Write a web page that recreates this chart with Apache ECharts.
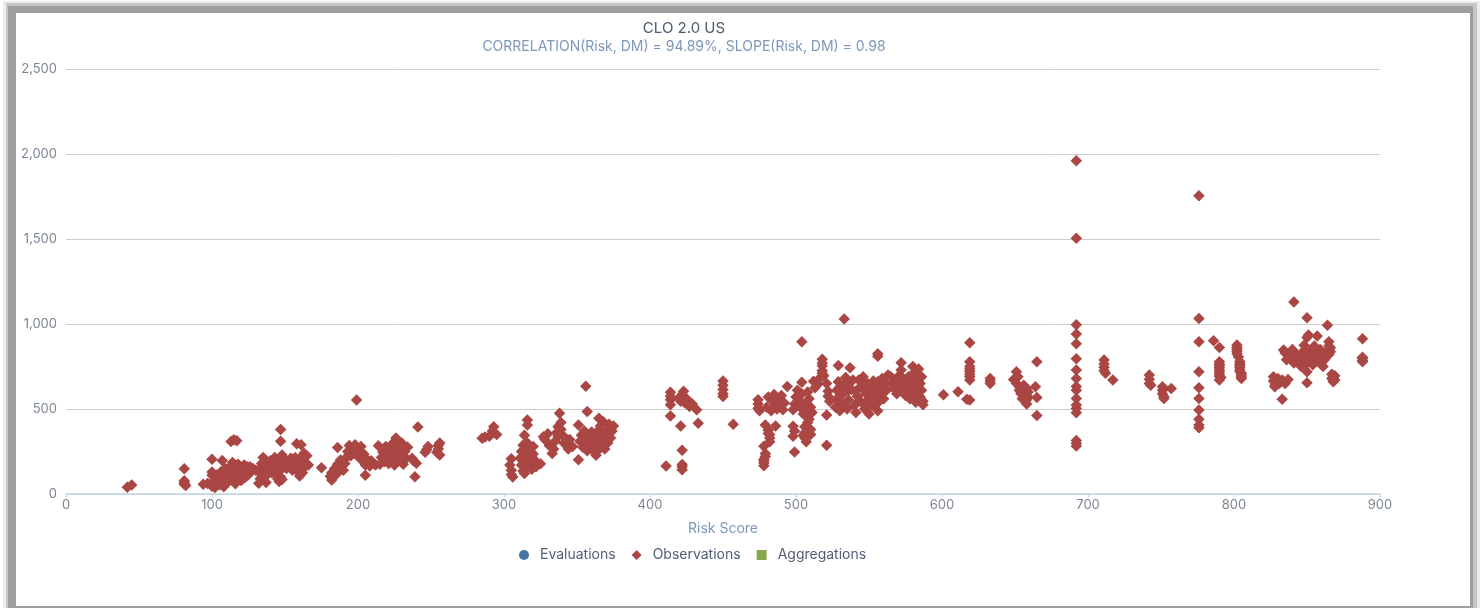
<!DOCTYPE html>
<html>
<head>
<meta charset="utf-8">
<script src="https://cdn.jsdelivr.net/npm/echarts@6/dist/echarts.min.js"></script>
<style>
  html, body { margin: 0; padding: 0; background: #fff; overflow: hidden; }
  .edge { position: absolute; }
  #main { position: absolute; left: 0; top: 0; width: 1480px; height: 608px; }
</style>
</head>
<body>
<!-- grey screenshot frame round the chart -->
<div class="edge" style="left:3px;top:1px;width:1477px;height:607px;background:#ececec"></div>
<div class="edge" style="left:6px;top:3px;width:1471px;height:605px;background:#c6c6c6"></div>
<div class="edge" style="left:8px;top:6px;width:1465px;height:602px;background:#9e9e9e"></div>
<div class="edge" style="left:16px;top:13px;width:1454px;height:593px;background:#fff"></div>
<div id="main"></div>
<script>
var yTicks = [0, 500, 1000, 1500, 2000, 2500];
var xTicks = [0, 100, 200, 300, 400, 500, 600, 700, 800, 900];
var legendNames = ['Evaluations', 'Observations', 'Aggregations'];
var evaluations = [];
var aggregations = [];

// observations, [risk, dm], left to right
var obsBelow100 = [[42,39],[45,53],[81,148],[81,78],[81,68],[81,58],[82,50],[94,57],[97,62]];
var obs100to130 = [[100,205],[107,197],[113,309],[115,319],[117,313],[100,45],[102,38],[103,60],[101,75],[104,90],[100,110],[100,130],
  [105,55],[106,75],[107,100],[108,62],[109,120],[110,85],[110,145],[111,70],[112,100],[112,130],[113,165],[114,80],[115,115],
  [115,150],[116,95],[117,135],[118,175],[119,110],[120,80],[120,150],[121,125],[122,170],[123,100],[124,140],[125,115],[126,160],
  [127,135],[128,150],[106,130],[103,112],[109,150],[114,185],[119,145],[122,95],[108,42],[104,72],[116,60],
  [113,130],[111,110],[117,110],[105,95],[109,95],[121,150],[125,140],[130,140],[124,160],[118,150],[116,170]];
var obs130to170 = [[132,63],[137,67],[146,73],[147,100],[145,90],[160,106],[163,240],[147,380],[147,311],[158,295],[161,290],
  [133,90],[133,120],[133,150],[134,180],[135,215],[136,105],[138,140],[139,170],[140,195],[141,125],[142,155],[143,215],[144,185],
  [145,140],[146,165],[147,205],[148,230],[149,175],[151,150],[152,190],[153,165],[154,210],[155,140],[156,180],[157,150],[158,195],
  [159,130],[160,170],[161,215],[162,150],[163,190],[164,165],[165,225],[166,170],[162,125],[148,85],
  [136,165],[137,195],[138,115],[140,150],[142,180],[143,130],[146,190],[148,150],[150,200],[152,165],[155,170],[157,215],[159,175],[161,185]];
var obs175to260 = [[175,155],[186,274],[182,83],[181,105],[182,125],[183,100],[184,150],[185,115],[186,175],[187,140],[188,200],
  [189,165],[190,140],[191,180],[192,215],[193,250],[194,285],[195,225],[196,270],[197,240],[198,290],[199,553],[200,255],[201,215],
  [202,280],[203,195],[204,235],[205,110],[205,170],[206,205],[208,165],[209,195],[210,180],[212,170],[214,284],[215,175],[216,215],
  [217,245],[218,190],[219,280],[220,225],[221,180],[222,260],[223,205],[224,300],[225,170],[225,240],[226,330],[227,195],[228,270],
  [229,225],[230,300],[231,175],[232,250],[233,210],[234,275],[237,210],[238,195],[240,181],[239,102],[241,394],[246,245],[247,260],
  [248,280],[254,245],[255,265],[255,285],[256,300],[256,230],
  [219,205],[222,230],[224,195],[226,215],[228,240],[230,250],[227,290],[221,245],[229,195],[184,130],[187,175],[197,260],[199,230],[207,185]];
var obs280to380 = [[285,328],[287,335],[290,340],[292,370],[293,396],[295,350],[305,208],[304,170],[305,140],[305,115],[306,100],
  [316,436],[316,406],[314,346],[313,287],[312,250],[311,210],[312,170],[313,135],[314,120],[316,300],[316,260],[317,215],[318,175],
  [319,145],[320,280],[320,235],[321,195],[322,160],[325,178],[327,337],[328,320],[330,355],[331,285],[333,238],[334,265],[335,310],
  [336,360],[337,396],[338,475],[339,420],[340,345],[341,300],[343,297],[344,265],[345,320],[347,280],[351,406],[351,202],[356,634],
  [357,485],[352,310],[353,345],[354,275],[355,370],[356,300],[357,255],[358,335],[359,280],[360,365],[361,310],[362,245],[363,228],
  [364,340],[365,445],[365,290],[366,375],[367,320],[368,425],[369,265],[370,350],[371,300],[372,410],[373,330],[375,400],[374,370],
  [314,200],[316,160],[318,250],[315,230],[320,210],[337,340],[339,380],[342,330],[355,320],[358,300],[360,280],[362,330],[364,310],[366,270],
  [368,345],[368,295],[361,345],[357,350],[363,360],[365,265],[369,320],[371,375],[366,400]];
var obs410to470 = [[411,164],[414,598],[414,554],[414,525],[414,459],[421,400],[422,257],[422,174],[422,143],[423,604],[420,564],
  [422,585],[424,535],[425,560],[427,515],[429,530],[432,495],[433,416],[450,665],[450,640],[450,614],[450,590],[450,574],[457,410],
  [414,575],[422,160],[421,545],[426,540]];
var obs470to526 = [[474,555],[474,530],[474,505],[475,490],[479,406],[481,375],[481,356],[482,330],[482,307],[478,281],[479,238],[478,205],
  [478,182],[478,166],[486,400],[480,510],[481,570],[483,490],[484,545],[485,585],[486,515],[487,500],[488,560],[489,530],[490,580],
  [491,495],[492,535],[494,633],[499,247],[498,340],[498,398],[499,370],[504,895],[504,657],[498,495],[499,530],[500,570],[501,610],
  [502,550],[503,510],[504,590],[505,470],[506,396],[506,360],[506,330],[507,307],[507,540],[508,600],[509,440],[510,380],[510,510],
  [510,350],[511,480],[512,663],[513,625],[515,645],[516,680],[518,792],[518,755],[518,725],[519,695],[521,287],[521,465],[521,650],
  [522,604],[522,575],[523,545],[508,420],[509,465],[505,345],[507,500],[509,560],[482,350],[479,220],[478,195],[518,770],[518,710]];
var obs526to590 = [[529,756],[537,742],[533,1030],[527,510],[528,560],[528,610],[529,660],[530,490],[531,535],[532,590],[533,640],
  [534,685],[535,500],[536,555],[538,615],[539,670],[540,520],[541,480],[542,575],[544,630],[545,540],[546,690],[547,500],[548,590],
  [549,650],[550,555],[550,470],[551,610],[552,520],[553,665],[554,575],[555,630],[556,490],[556,810],[556,825],[557,545],[558,600],
  [559,680],[560,560],[561,640],[562,610],[563,700],[565,690],[566,650],[567,620],[568,670],[569,590],[570,640],[571,700],[572,772],
  [572,730],[573,610],[574,665],[575,580],[576,625],[577,690],[578,560],[579,650],[580,750],[580,600],[581,715],[582,540],[582,680],
  [583,630],[584,735],[585,570],[585,650],[586,610],[587,525],[587,545],
  [541,605],[543,545],[546,650],[548,540],[550,625],[552,585],[554,530],[556,660],[558,560],[560,660],[557,620],[553,620],[547,610],
  [543,670],[535,650],[530,630],[532,520],[536,610],[566,680],[570,610],[574,640],[578,625],[581,640],[583,590],[586,690],[580,670],
  [576,655],[572,670],[584,660],[581,570],[577,600],[569,660]];
var obs600to670 = [[601,584],[611,602],[617,557],[619,553],[619,890],[619,778],[619,750],[619,720],[619,690],[619,670],[633,680],[633,665],
  [633,650],[651,719],[649,674],[652,690],[653,631],[654,591],[657,610],[659,570],[658,530],[656,640],[655,560],[659,600],[658,555],
  [665,778],[664,631],[665,568],[665,462],[619,735],[619,705],[651,650],[653,610],[656,585],[658,620]];
var obs692 = [[692,1960],[692,1505],[692,995],[692,941],[692,884],[692,796],[692,729],[692,680],[692,632],[692,610],[692,562],[692,523],
  [692,503],[692,478],[692,314],[692,298],[692,282]];
var obs705to760 = [[711,788],[711,765],[711,745],[711,725],[712,710],[717,670],[742,700],[742,675],[742,650],[743,640],[751,631],[751,610],
  [751,590],[752,572],[752,562],[757,621]];
var obs776 = [[776,1755],[776,1033],[776,896],[776,719],[776,625],[776,562],[776,494],[776,439],[776,406],[776,390]];
var obs785to870 = [[786,902],[790,862],[790,778],[790,755],[790,730],[790,705],[791,685],[790,670],[802,876],[802,850],[802,825],[803,807],
  [804,768],[804,745],[804,720],[805,700],[805,680],[827,690],[827,665],[828,640],[828,631],[830,680],[833,670],[833,557],[835,650],
  [837,674],[841,1129],[850,1037],[864,992],[834,847],[835,830],[838,800],[840,850],[841,770],[843,820],[844,790],[846,750],
  [847,835],[848,875],[849,805],[850,920],[850,770],[851,935],[852,840],[853,795],[854,760],[855,870],[856,815],[857,929],[858,780],
  [859,850],[860,805],[861,750],[850,719],[850,655],[865,896],[865,870],[865,850],[866,837],[867,705],[868,690],[868,680],[869,670],
  [790,765],[790,742],[790,718],[790,692],[802,862],[802,838],[804,780],[804,757],[804,732],[805,710],[805,690],[831,650],[829,660],
  [842,800],[845,810],[848,790],[850,830],[851,800],[853,770],[855,830],[857,790],[859,810],[849,850],[847,780],[838,815],[836,790],
  [862,790],[863,830],[865,820],[866,860],[867,680],[869,695],[868,660]];
var obsAbove880 = [[888,913],[888,805],[888,798],[888,785],[888,778]];

var observations = [].concat(obsBelow100, obs100to130, obs130to170, obs175to260, obs280to380, obs410to470,
  obs470to526, obs526to590, obs600to670, obs692, obs705to760, obs776, obs785to870, obsAbove880);

var fontName = 'Inter, "Open Sans", sans-serif';
var myChart = echarts.init(document.getElementById('main'), null, { renderer: 'canvas' });

myChart.setOption({
  animation: false,
  backgroundColor: 'transparent',
  textStyle: { fontFamily: fontName },
  title: [
    { text: 'CLO 2.0 US', left: 684, top: 21, textAlign: 'center', padding: 0,
      textStyle: { color: '#4d5b70', fontSize: 15, fontWeight: 'normal', fontFamily: fontName } },
    { text: 'CORRELATION(Risk, DM) = 94.89%, SLOPE(Risk, DM) = 0.98', left: 684, top: 40, textAlign: 'center', padding: 0,
      textStyle: { color: '#7d97bb', fontSize: 14, fontWeight: 'normal', fontFamily: fontName } }
  ],
  grid: { left: 66, right: 100, top: 69, bottom: 114 },
  legend: {
    data: legendNames,
    left: 514, top: 543,
    itemWidth: 10, itemHeight: 10, itemGap: 16,
    textStyle: { color: '#4f5f78', fontSize: 14, fontFamily: fontName, padding: [0, 0, 0, 6] }
  },
  xAxis: {
    type: 'value', min: xTicks[0], max: xTicks[xTicks.length - 1], interval: 100,
    name: 'Risk Score', nameLocation: 'middle', nameGap: 28,
    nameTextStyle: { color: '#7d97bb', fontSize: 14 },
    axisLine: { show: true, lineStyle: { color: '#c6d6e8', width: 1.5 } },
    axisTick: { show: true, length: 3, lineStyle: { color: '#c6d6e8' } },
    axisLabel: { color: '#7b8594', fontSize: 13, margin: 5, showMinLabel: true, showMaxLabel: true },
    splitLine: { show: false }
  },
  yAxis: {
    type: 'value', min: yTicks[0], max: yTicks[yTicks.length - 1], interval: 500,
    axisLine: { show: false },
    axisTick: { show: false },
    axisLabel: { color: '#7b8594', fontSize: 13, margin: 9,
      formatter: function (v) { return v.toLocaleString('en-US'); } },
    splitLine: { lineStyle: { color: '#cccccc', width: 1 } }
  },
  series: [
    { name: legendNames[0], type: 'scatter', symbol: 'circle', symbolSize: 9, data: evaluations,
      itemStyle: { color: '#4572a7', opacity: 1 } },
    { name: legendNames[1], type: 'scatter', symbol: 'diamond', symbolSize: 11.5, data: observations,
      itemStyle: { color: '#aa4643', opacity: 1 } },
    { name: legendNames[2], type: 'scatter', symbol: 'rect', symbolSize: 9, data: aggregations,
      itemStyle: { color: '#89a54e', opacity: 1 } }
  ]
});
</script>
</body>
</html>
